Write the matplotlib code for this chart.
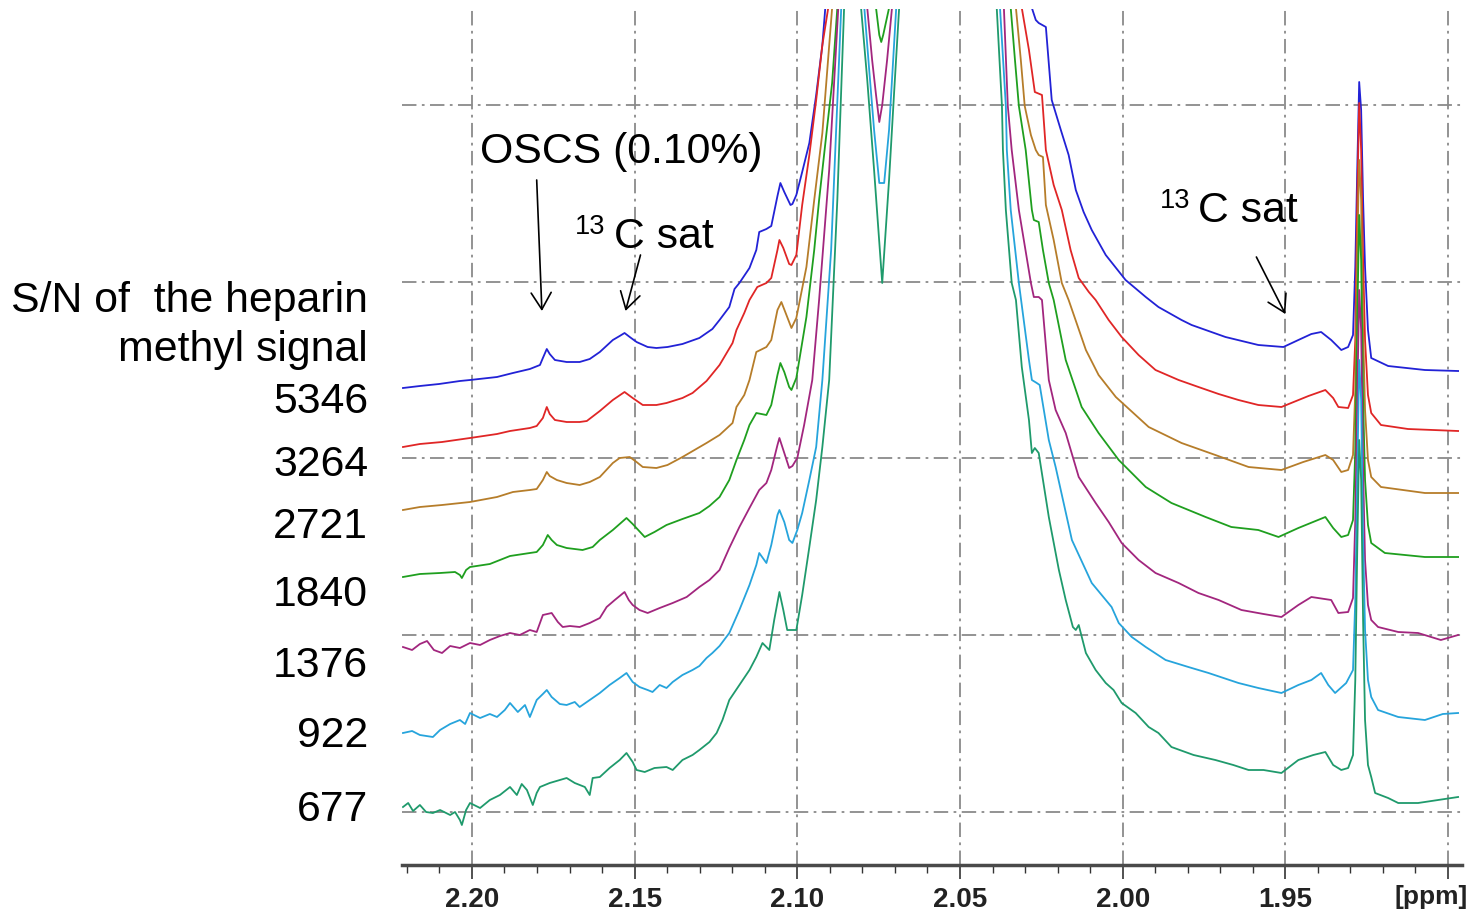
import matplotlib.pyplot as plt
from matplotlib.ticker import MultipleLocator, FixedLocator

plt.rcParams['font.family'] = ['Liberation Sans', 'DejaVu Sans']

# (ppm, intensity); intensity = height above the ppm axis (a.u.)
# values above the top of the window (856) belong to the off-scale heparin methyl peak
sn_5346 = [
    (2.2212, 477), (2.2160, 479), (2.2101, 481), (2.2037, 484), (2.2006, 485), (2.1923, 488),
    (2.1874, 492), (2.1822, 496), (2.1791, 500), (2.1782, 507), (2.1770, 516), (2.1761, 511),
    (2.1745, 505), (2.1709, 503), (2.1669, 503), (2.1638, 506), (2.1607, 513), (2.1567, 525),
    (2.1546, 529), (2.1531, 532), (2.1515, 528), (2.1494, 523), (2.1460, 518), (2.1433, 517),
    (2.1399, 518), (2.1353, 521), (2.1301, 527), (2.1261, 536), (2.1239, 545), (2.1209, 558),
    (2.1193, 576), (2.1178, 582), (2.1147, 597), (2.1126, 615), (2.1117, 633), (2.1095, 636),
    (2.1080, 639), (2.1061, 669), (2.1052, 682), (2.1040, 673), (2.1021, 660), (2.1015, 661),
    (2.1003, 670), (2.0985, 693), (2.0963, 722), (2.0942, 770), (2.0923, 820), (2.0914, 857),
    (2.0880, 1150), (2.0300, 1150),
    (2.0279, 857), (2.0267, 845), (2.0258, 842), (2.0236, 838), (2.0218, 765), (2.0190, 735),
    (2.0166, 710), (2.0144, 675), (2.0120, 653), (2.0095, 635), (2.0052, 610), (1.9991, 585),
    (1.9929, 568), (1.9890, 558), (1.9819, 545), (1.9788, 540), (1.9684, 528), (1.9583, 520),
    (1.9506, 518), (1.9460, 525), (1.9420, 531), (1.9390, 533), (1.9359, 525), (1.9328, 515),
    (1.9307, 518), (1.9292, 530), (1.9285, 598), (1.9279, 695), (1.9273, 783), (1.9267, 755),
    (1.9261, 665), (1.9255, 598), (1.9246, 535), (1.9236, 507), (1.9184, 499), (1.9071, 495),
    (1.8969, 494),
]
sn_3264 = [
    (2.2212, 418), (2.2160, 421), (2.2092, 423), (2.2006, 427), (2.1923, 431), (2.1883, 434),
    (2.1822, 437), (2.1801, 439), (2.1782, 447), (2.1770, 458), (2.1761, 451), (2.1745, 445),
    (2.1709, 443), (2.1669, 443), (2.1647, 444), (2.1607, 454), (2.1567, 465), (2.1531, 473),
    (2.1506, 467), (2.1475, 460), (2.1433, 460), (2.1402, 462), (2.1353, 467), (2.1322, 472),
    (2.1279, 484), (2.1239, 500), (2.1199, 522), (2.1187, 535), (2.1163, 552), (2.1147, 565),
    (2.1123, 578), (2.1095, 582), (2.1080, 587), (2.1061, 615), (2.1055, 625), (2.1043, 617),
    (2.1025, 601), (2.1018, 600), (2.1003, 610), (2.0985, 660), (2.0963, 710), (2.0942, 765),
    (2.0923, 820), (2.0905, 857),
    (2.0870, 1150), (2.0330, 1150),
    (2.0310, 857), (2.0288, 815), (2.0270, 773), (2.0248, 770), (2.0236, 715), (2.0212, 680),
    (2.0187, 655), (2.0160, 615), (2.0135, 587), (2.0104, 573), (2.0083, 565), (2.0043, 545),
    (2.0003, 528), (1.9951, 510), (1.9899, 495), (1.9828, 485), (1.9767, 478), (1.9705, 471),
    (1.9644, 465), (1.9583, 460), (1.9512, 458), (1.9482, 462), (1.9429, 469), (1.9377, 475),
    (1.9353, 467), (1.9337, 458), (1.9307, 457), (1.9292, 470), (1.9285, 525), (1.9279, 665),
    (1.9273, 762), (1.9267, 715), (1.9261, 605), (1.9255, 525), (1.9246, 470), (1.9236, 452),
    (1.9206, 440), (1.9123, 436), (1.8969, 434),
]
sn_2721 = [
    (2.2212, 355), (2.2160, 358), (2.2092, 360), (2.2006, 363), (2.1923, 368), (2.1874, 373),
    (2.1822, 375), (2.1801, 376), (2.1782, 385), (2.1770, 393), (2.1761, 389), (2.1739, 385),
    (2.1709, 382), (2.1669, 380), (2.1638, 383), (2.1607, 388), (2.1567, 402), (2.1546, 407),
    (2.1515, 408), (2.1494, 403), (2.1475, 398), (2.1433, 397), (2.1399, 400), (2.1353, 408),
    (2.1316, 415), (2.1279, 422), (2.1239, 430), (2.1199, 442), (2.1187, 458), (2.1163, 470),
    (2.1147, 485), (2.1126, 513), (2.1095, 518), (2.1080, 525), (2.1061, 555), (2.1049, 563),
    (2.1037, 553), (2.1018, 537), (2.1003, 547), (2.0972, 598), (2.0948, 665), (2.0923, 732),
    (2.0893, 857),
    (2.0860, 1150), (2.0350, 1150),
    (2.0328, 857), (2.0313, 805), (2.0301, 759), (2.0282, 730), (2.0267, 715), (2.0258, 710),
    (2.0245, 708), (2.0236, 660), (2.0212, 625), (2.0187, 582), (2.0166, 565), (2.0113, 515),
    (2.0074, 490), (2.0021, 468), (1.9920, 438), (1.9819, 422), (1.9715, 410), (1.9613, 398),
    (1.9512, 395), (1.9445, 403), (1.9377, 410), (1.9353, 405), (1.9328, 393), (1.9307, 395),
    (1.9292, 410), (1.9285, 475), (1.9279, 615), (1.9273, 705), (1.9267, 665), (1.9261, 535),
    (1.9255, 455), (1.9246, 405), (1.9236, 388), (1.9206, 378), (1.9071, 372), (1.8969, 372),
]
sn_1840 = [
    (2.2212, 288), (2.2160, 291), (2.2098, 292), (2.2052, 293), (2.2037, 290), (2.2031, 287),
    (2.2018, 295), (2.2006, 298), (2.1945, 301), (2.1883, 309), (2.1822, 312), (2.1801, 313),
    (2.1782, 320), (2.1767, 330), (2.1755, 325), (2.1739, 320), (2.1709, 317), (2.1660, 315),
    (2.1629, 318), (2.1607, 325), (2.1567, 335), (2.1546, 341), (2.1525, 347), (2.1506, 341),
    (2.1469, 328), (2.1439, 333), (2.1402, 340), (2.1353, 346), (2.1301, 352), (2.1270, 359),
    (2.1239, 368), (2.1209, 385), (2.1187, 405), (2.1163, 425), (2.1147, 440), (2.1126, 452),
    (2.1095, 450), (2.1080, 460), (2.1061, 490), (2.1052, 502), (2.1040, 493), (2.1025, 478),
    (2.1018, 475), (2.1003, 487), (2.0972, 548), (2.0948, 615), (2.0933, 665), (2.0911, 730),
    (2.0893, 782), (2.0877, 857),
    (2.0840, 1150), (2.0790, 1150),
    (2.0758, 857), (2.0748, 830), (2.0742, 823), (2.0736, 830), (2.0718, 857),
    (2.0690, 1150), (2.0370, 1150),
    (2.0344, 857), (2.0331, 805), (2.0319, 759), (2.0298, 715), (2.0279, 655), (2.0273, 645),
    (2.0258, 643), (2.0245, 615), (2.0227, 582), (2.0212, 565), (2.0175, 505), (2.0126, 458),
    (2.0074, 432), (2.0012, 405), (1.9929, 378), (1.9850, 362), (1.9745, 348), (1.9666, 338),
    (1.9583, 335), (1.9521, 328), (1.9460, 337), (1.9377, 348), (1.9353, 337), (1.9328, 328),
    (1.9307, 330), (1.9292, 345), (1.9285, 415), (1.9279, 545), (1.9273, 650), (1.9267, 605),
    (1.9261, 465), (1.9255, 385), (1.9246, 340), (1.9236, 322), (1.9194, 312), (1.9071, 308),
    (1.8969, 308),
]
sn_1376 = [
    (2.2212, 218), (2.2184, 215), (2.2160, 221), (2.2138, 224), (2.2117, 215), (2.2092, 212),
    (2.2067, 219), (2.2037, 217), (2.2006, 222), (2.1975, 220), (2.1945, 225), (2.1914, 229),
    (2.1883, 232), (2.1853, 230), (2.1822, 235), (2.1801, 233), (2.1782, 250), (2.1755, 252),
    (2.1736, 243), (2.1721, 238), (2.1699, 239), (2.1669, 238), (2.1638, 242), (2.1607, 247),
    (2.1586, 258), (2.1561, 265), (2.1531, 273), (2.1518, 265), (2.1506, 260), (2.1485, 255),
    (2.1460, 252), (2.1423, 257), (2.1383, 262), (2.1340, 268), (2.1301, 278), (2.1270, 285),
    (2.1239, 295), (2.1209, 317), (2.1178, 338), (2.1147, 357), (2.1117, 375), (2.1095, 382),
    (2.1080, 395), (2.1061, 420), (2.1055, 427), (2.1043, 415), (2.1025, 397), (2.1015, 399),
    (2.1000, 407), (2.0979, 440), (2.0954, 485), (2.0933, 565), (2.0902, 695), (2.0874, 857),
    (2.0830, 1150), (2.0800, 1150),
    (2.0785, 857), (2.0770, 805), (2.0758, 770), (2.0748, 743), (2.0739, 760), (2.0724, 805),
    (2.0709, 857),
    (2.0680, 1150), (2.0380, 1150),
    (2.0365, 857), (2.0353, 759), (2.0341, 715), (2.0319, 655), (2.0282, 582), (2.0273, 568),
    (2.0258, 568), (2.0248, 565), (2.0227, 485), (2.0206, 455), (2.0175, 432), (2.0135, 388),
    (2.0083, 362), (2.0043, 343), (2.0003, 322), (1.9951, 305), (1.9899, 292), (1.9828, 282),
    (1.9767, 272), (1.9705, 265), (1.9635, 255), (1.9567, 251), (1.9512, 248), (1.9460, 260),
    (1.9420, 268), (1.9359, 265), (1.9337, 252), (1.9307, 253), (1.9292, 267), (1.9285, 345),
    (1.9279, 465), (1.9273, 575), (1.9267, 535), (1.9261, 395), (1.9255, 305), (1.9246, 260),
    (1.9236, 245), (1.9215, 238), (1.9153, 233), (1.9092, 232), (1.9022, 225), (1.8969, 230),
]
sn_922 = [
    (2.2212, 132), (2.2184, 134), (2.2160, 130), (2.2120, 128), (2.2098, 135), (2.2067, 141),
    (2.2037, 145), (2.2021, 141), (2.2006, 152), (2.1975, 147), (2.1945, 151), (2.1923, 148),
    (2.1899, 155), (2.1883, 162), (2.1859, 153), (2.1837, 160), (2.1822, 148), (2.1801, 165),
    (2.1782, 171), (2.1770, 175), (2.1755, 168), (2.1730, 161), (2.1709, 160), (2.1684, 163),
    (2.1669, 158), (2.1638, 165), (2.1607, 172), (2.1577, 180), (2.1546, 187), (2.1525, 192),
    (2.1506, 183), (2.1485, 178), (2.1460, 175), (2.1445, 173), (2.1423, 180), (2.1402, 177),
    (2.1383, 183), (2.1353, 190), (2.1322, 195), (2.1301, 199), (2.1279, 207), (2.1261, 212),
    (2.1239, 219), (2.1209, 232), (2.1178, 255), (2.1147, 280), (2.1126, 300), (2.1117, 312),
    (2.1095, 302), (2.1080, 320), (2.1061, 350), (2.1055, 355), (2.1040, 343), (2.1025, 325),
    (2.1015, 322), (2.1000, 335), (2.0985, 352), (2.0963, 385), (2.0942, 418), (2.0923, 485),
    (2.0896, 615), (2.0865, 857),
    (2.0830, 1150), (2.0810, 1150),
    (2.0794, 857), (2.0779, 795), (2.0764, 735), (2.0748, 682), (2.0733, 682), (2.0718, 735),
    (2.0696, 857),
    (2.0670, 1150), (2.0400, 1150),
    (2.0377, 857), (2.0359, 759), (2.0356, 715), (2.0344, 655), (2.0319, 582), (2.0288, 505),
    (2.0279, 485), (2.0264, 482), (2.0255, 480), (2.0227, 425), (2.0206, 398), (2.0156, 325),
    (2.0095, 282), (2.0034, 258), (2.0012, 242), (1.9972, 228), (1.9929, 218), (1.9868, 205),
    (1.9798, 198), (1.9736, 192), (1.9644, 182), (1.9583, 177), (1.9512, 172), (1.9460, 180),
    (1.9420, 185), (1.9390, 192), (1.9368, 180), (1.9347, 172), (1.9313, 182), (1.9292, 195),
    (1.9285, 265), (1.9279, 385), (1.9273, 505), (1.9267, 465), (1.9261, 325), (1.9255, 235),
    (1.9246, 185), (1.9236, 168), (1.9215, 155), (1.9153, 148), (1.9071, 145), (1.9016, 151),
    (1.8969, 152),
]
sn_677 = [
    (2.2212, 58), (2.2196, 62), (2.2181, 54), (2.2160, 60), (2.2141, 53), (2.2120, 52),
    (2.2098, 55), (2.2067, 50), (2.2052, 53), (2.2037, 45), (2.2031, 40), (2.2018, 55),
    (2.2006, 62), (2.1975, 57), (2.1945, 65), (2.1914, 70), (2.1883, 78), (2.1862, 70),
    (2.1847, 81), (2.1831, 75), (2.1813, 60), (2.1801, 72), (2.1791, 78), (2.1761, 82),
    (2.1730, 85), (2.1709, 87), (2.1684, 82), (2.1653, 78), (2.1638, 70), (2.1629, 87),
    (2.1607, 88), (2.1577, 97), (2.1546, 105), (2.1525, 112), (2.1506, 103), (2.1494, 95),
    (2.1469, 93), (2.1439, 97), (2.1402, 98), (2.1383, 95), (2.1353, 105), (2.1322, 110),
    (2.1301, 115), (2.1270, 123), (2.1248, 132), (2.1230, 145), (2.1209, 165), (2.1178, 180),
    (2.1147, 195), (2.1126, 208), (2.1107, 222), (2.1086, 215), (2.1071, 245), (2.1055, 273),
    (2.1043, 255), (2.1031, 235), (2.1003, 235), (2.0985, 270), (2.0963, 318), (2.0942, 365),
    (2.0923, 418), (2.0902, 485), (2.0877, 665), (2.0856, 857),
    (2.0830, 1150), (2.0815, 1150),
    (2.0804, 857), (2.0785, 785), (2.0764, 695), (2.0739, 582), (2.0718, 685), (2.0702, 775),
    (2.0687, 857),
    (2.0660, 1150), (2.0410, 1150),
    (2.0387, 857), (2.0371, 759), (2.0368, 715), (2.0359, 655), (2.0341, 582), (2.0328, 565),
    (2.0310, 498), (2.0288, 445), (2.0279, 412), (2.0270, 417), (2.0258, 412), (2.0227, 348),
    (2.0196, 295), (2.0175, 265), (2.0153, 238), (2.0144, 235), (2.0135, 240), (2.0113, 212),
    (2.0083, 195), (2.0052, 182), (2.0028, 175), (2.0003, 162), (1.9960, 152), (1.9920, 138),
    (1.9890, 132), (1.9850, 118), (1.9782, 110), (1.9715, 105), (1.9660, 100), (1.9613, 95),
    (1.9567, 95), (1.9512, 92), (1.9460, 105), (1.9414, 110), (1.9377, 113), (1.9353, 100),
    (1.9328, 95), (1.9307, 97), (1.9292, 110), (1.9285, 185), (1.9279, 315), (1.9273, 425),
    (1.9267, 385), (1.9261, 245), (1.9255, 145), (1.9246, 100), (1.9236, 88), (1.9224, 72),
    (1.9184, 67), (1.9153, 62), (1.9092, 62), (1.9031, 65), (1.8969, 68),
]

spectra = [sn_5346, sn_3264, sn_2721, sn_1840, sn_1376, sn_922, sn_677]
sn_labels = ["5346", "3264", "2721", "1840", "1376", "922", "677"]
tick_ppm = [2.20, 2.15, 2.10, 2.05, 2.00, 1.95, 1.90]
tick_labels = ["2.20", "2.15", "2.10", "2.05", "2.00", "1.95", ""]
grid_levels = [53, 230, 407, 583, 760]

colors = ["#2222d6", "#e02626", "#b67d2a", "#1f9f1f", "#a2267e", "#26a4dc", "#1f9a6c"]

W, H = 1475, 915
fig = plt.figure(figsize=(W / 100, H / 100), dpi=100)
ax = fig.add_axes([402 / W, (H - 865) / H, (1462 - 402) / W, (865 - 9) / H])

for spec, c in zip(spectra, colors):
    ppm = [p for p, _ in spec]
    inten = [v for _, v in spec]
    ax.plot(ppm, inten, color=c, lw=1.3, zorder=3)

ax.set_xlim(2.2215, 1.8957)
ax.set_ylim(0, 856)

# dash-dot grid like the NMR software
for t in tick_ppm:
    ax.axvline(t, color="#8a8a8a", lw=1.3, ls=(0, (8, 3, 1.5, 3)), zorder=1)
for g in grid_levels:
    ax.axhline(g, color="#8a8a8a", lw=1.3, ls=(0, (8, 3, 1.5, 3)), zorder=1)

for s in ["top", "left", "right"]:
    ax.spines[s].set_visible(False)
ax.spines["bottom"].set_color("#4a4a4a")
ax.spines["bottom"].set_linewidth(2.5)
ax.set_yticks([])

ax.xaxis.set_major_locator(FixedLocator(tick_ppm))
ax.xaxis.set_minor_locator(MultipleLocator(0.01))
ax.set_xticklabels(tick_labels)
ax.tick_params(axis="x", which="major", direction="out", length=10, width=1.2,
               color="#333333", pad=6)
ax.tick_params(axis="x", which="minor", direction="out", length=6, width=1.0,
               color="#333333")
for lab in ax.get_xticklabels():
    lab.set_fontweight("bold")
    lab.set_fontsize(20)
    lab.set_color("#222222")
fig.text(1468 / W, 1 - 897 / H, "[ppm]", ha="right", va="center", fontsize=19,
         fontweight="bold", color="#222222")

# left-hand labels
fs = 30.8
fig.text(368 / W, 1 - 312 / H, "S/N of  the heparin", ha="right", va="baseline", fontsize=fs)
fig.text(368 / W, 1 - 361 / H, "methyl signal", ha="right", va="baseline", fontsize=fs)
label_baselines = [413, 476, 538, 606, 677, 747, 821]
for lab, yb in zip(sn_labels, label_baselines):
    fig.text(368 / W, 1 - yb / H, lab, ha="right", va="baseline", fontsize=fs)

# annotations
fig.text(480 / W, 1 - 163 / H, "OSCS (0.10%)", ha="left", va="baseline", fontsize=fs)
fig.text(605 / W, 1 - 234 / H, "13", ha="right", va="baseline", fontsize=19.5)
fig.text(614 / W, 1 - 248 / H, "C sat", ha="left", va="baseline", fontsize=fs)
fig.text(1190 / W, 1 - 208 / H, "13", ha="right", va="baseline", fontsize=19.5)
fig.text(1198 / W, 1 - 222 / H, "C sat", ha="left", va="baseline", fontsize=fs)

arrow = dict(arrowstyle="->,head_length=1.0,head_width=0.6", color="black", lw=1.2,
             mutation_scale=12, shrinkA=0, shrinkB=0)
ax.annotate("", xy=(2.1785, 554), xytext=(2.1801, 685), arrowprops=arrow)
ax.annotate("", xy=(2.1528, 554), xytext=(2.1482, 610), arrowprops=arrow)
ax.annotate("", xy=(1.9500, 551), xytext=(1.9589, 608), arrowprops=arrow)

fig.savefig("out.png", dpi=100)
